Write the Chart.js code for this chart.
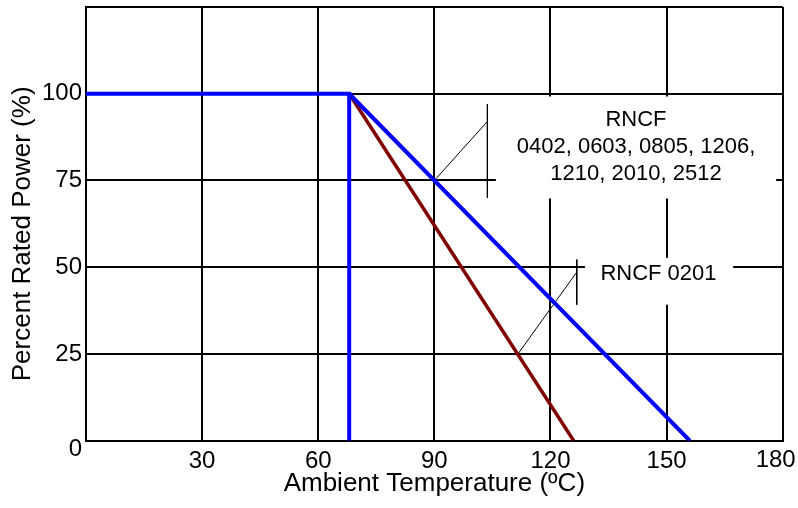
<!DOCTYPE html>
<html lang="en">
<head>
    <meta charset="UTF-8">
    <title>Power Derating Curve</title>
    <script src="https://cdn.jsdelivr.net/npm/chart.js"></script>
    <style>
        body {
            margin: 0;
            padding: 0;
            background: #fff;
        }

        .chart-box {
            width: 798px;
            height: 508px;
        }
    </style>
</head>
<body>
    <div class="chart-box">
        <canvas id="derating"></canvas>
    </div>

    <script>
        // curve data (temperature in ºC, power in %)
        const blueFlatTemp = [0, 68, 68];
        const blueFlatPower = [100, 100, 0];
        const blueSlopeTemp = [68, 156];
        const blueSlopePower = [100, 0];
        const redTemp = [68, 126];
        const redPower = [100, 0];

        // leader lines pointing at the curves
        const leaderATemp = [90, 103.7];
        const leaderAPower = [75, 92];
        const barATemp = [103.7, 103.7];
        const barAPower = [97, 70];
        const leaderBTemp = [111.6, 126.8];
        const leaderBPower = [25, 48.6];
        const barBTemp = [126.8, 126.8];
        const barBPower = [52.2, 39.2];

        const xTicks = [30, 60, 90, 120, 150, 180];
        const yTicks = [25, 50, 75, 100];

        const labelA = ['RNCF', '0402, 0603, 0805, 1206,', '1210, 2010, 2512'];
        const labelB = ['RNCF 0201'];
        const yTitle = 'Percent Rated Power (%)';

        const FONT = "'Liberation Sans', Arial, Helvetica, sans-serif";

        function toPoints(xs, ys) {
            return xs.map((x, i) => ({ x: x, y: ys[i] }));
        }

        function line(xs, ys, color, width, order) {
            return {
                data: toPoints(xs, ys),
                showLine: true,
                borderColor: color,
                borderWidth: width,
                pointRadius: 0,
                fill: false,
                tension: 0,
                order: order
            };
        }

        // white boxes behind the labels, then the text
        const labelPlugin = {
            id: 'labels',
            beforeDatasetsDraw(chart) {
                const ctx = chart.ctx;
                const xs = chart.scales.x;
                const ys = chart.scales.y;
                const notes = [
                    { lines: labelA, box: [105.9, 178.3, 99.2, 69.8], cx: 142.1, cy: 84.7, gap: 26.7 },
                    { lines: labelB, box: [128.9, 167.2, 52.7, 39.2], cx: 147.9, cy: 48.1, gap: 0 }
                ];
                ctx.save();
                notes.forEach(n => {
                    const x0 = xs.getPixelForValue(n.box[0]);
                    const x1 = xs.getPixelForValue(n.box[1]);
                    const y0 = ys.getPixelForValue(n.box[2]);
                    const y1 = ys.getPixelForValue(n.box[3]);
                    ctx.fillStyle = '#fff';
                    ctx.fillRect(x0, y0, x1 - x0, y1 - y0);

                    ctx.fillStyle = '#000';
                    ctx.font = '22px ' + FONT;
                    ctx.textAlign = 'center';
                    ctx.textBaseline = 'middle';
                    const cx = xs.getPixelForValue(n.cx);
                    const cy = ys.getPixelForValue(n.cy);
                    const first = cy - (n.lines.length - 1) * n.gap / 2;
                    n.lines.forEach((t, i) => ctx.fillText(t, cx, first + i * n.gap));
                });
                ctx.restore();
            },
            afterDraw(chart) {
                const ctx = chart.ctx;
                const area = chart.chartArea;
                ctx.save();
                ctx.fillStyle = '#000';
                ctx.font = '24px ' + FONT;
                ctx.textBaseline = 'middle';
                // the shared "0" sits a little below the corner
                ctx.textAlign = 'right';
                ctx.fillText('0', area.left - 4, area.bottom + 9);
                // last x label is pulled in so it stays on the page
                ctx.textAlign = 'center';
                ctx.fillText(String(xTicks[xTicks.length - 1]), area.right - 7, area.bottom + 20);
                // y axis title, a bit below the middle as in the original
                ctx.font = '26px ' + FONT;
                ctx.translate(22.5, (area.top + area.bottom) / 2 + 10);
                ctx.rotate(-Math.PI / 2);
                ctx.fillText(yTitle, 0, 0);
                ctx.restore();
            }
        };

        const ctx = document.getElementById('derating').getContext('2d');
        new Chart(ctx, {
            type: 'scatter',
            data: {
                datasets: [
                    line(blueFlatTemp, blueFlatPower, '#0000ff', 4, 1),
                    line(blueSlopeTemp, blueSlopePower, '#0000ff', 4, 1),
                    line(redTemp, redPower, '#800000', 3.5, 2),
                    line(leaderATemp, leaderAPower, '#000', 1, 3),
                    line(barATemp, barAPower, '#000', 1, 3),
                    line(leaderBTemp, leaderBPower, '#000', 1, 3),
                    line(barBTemp, barBPower, '#000', 1, 3)
                ]
            },
            options: {
                responsive: true,
                maintainAspectRatio: false,
                animation: false,
                events: [],
                layout: { padding: 0 },
                plugins: {
                    legend: { display: false },
                    tooltip: { enabled: false }
                },
                scales: {
                    x: {
                        type: 'linear',
                        min: 0,
                        max: 180,
                        afterBuildTicks(scale) {
                            scale.ticks = [{ value: 0 }].concat(xTicks.map(v => ({ value: v })));
                        },
                        afterFit(scale) {
                            scale.height = 67.3;
                            scale.paddingRight = 15.3;
                        },
                        ticks: {
                            color: '#000',
                            font: { family: FONT, size: 24 },
                            padding: 6,
                            maxRotation: 0,
                            callback: v => (v === 0 || v === 180 ? '' : String(v))
                        },
                        grid: { color: '#000', lineWidth: 2, drawTicks: false },
                        border: { color: '#000', width: 2 },
                        title: {
                            display: true,
                            text: 'Ambient Temperature (ºC)',
                            color: '#000',
                            font: { family: FONT, size: 26 },
                            padding: { top: 0, bottom: 9 }
                        }
                    },
                    y: {
                        type: 'linear',
                        min: 0,
                        max: 125,
                        afterBuildTicks(scale) {
                            scale.ticks = [{ value: 0 }].concat(yTicks.map(v => ({ value: v })), [{ value: 125 }]);
                        },
                        afterFit(scale) {
                            scale.width = 86;
                            scale.paddingTop = 7;
                            scale.paddingBottom = 0;
                        },
                        ticks: {
                            color: '#000',
                            font: { family: FONT, size: 24 },
                            padding: 4,
                            callback: v => (v === 0 || v === 125 ? '' : String(v))
                        },
                        grid: { color: '#000', lineWidth: 2, drawTicks: false },
                        border: { color: '#000', width: 2 },
                        title: { display: false }
                    }
                }
            },
            plugins: [labelPlugin]
        });
    </script>
</body>
</html>
